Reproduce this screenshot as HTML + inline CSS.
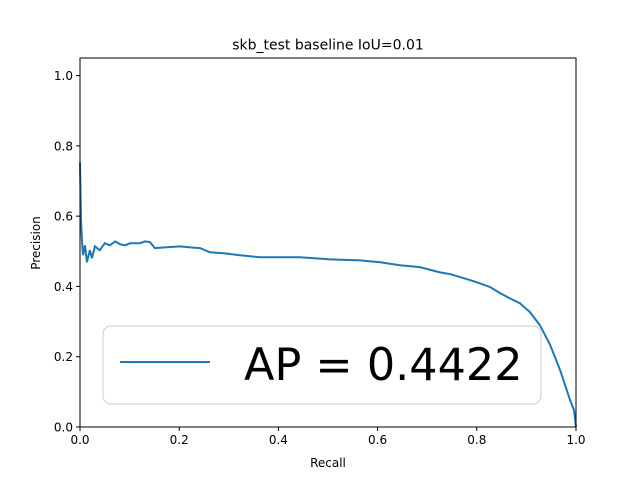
<!DOCTYPE html>
<html><head><meta charset="utf-8"><style>body{margin:0;background:#fff}svg{font-family:"DejaVu Sans","Liberation Sans",sans-serif}</style></head>
<body>
<svg id="chart" width="640" height="480">
<rect width="640" height="480" fill="#fff"/>
<text x="328" y="49.5" text-anchor="middle" font-size="14">skb_test baseline IoU=0.01</text>
<g id="axes"></g>
<text x="328" y="467" text-anchor="middle" font-size="12">Recall</text>
<text transform="translate(40,243) rotate(-90)" text-anchor="middle" font-size="12">Precision</text>
</svg>
<script>
const recall=[0,.002,.004,.006,.010,.014,.020,.024,.030,.040,.050,.060,.071,.081,.091,.101,.121,.131,.141,.151,.171,.202,.222,.242,.262,.292,.323,.363,.444,.504,.565,.605,.645,.685,.726,.746,.786,.806,.827,.847,.867,.887,.907,.927,.948,.968,.978,.988,.996,1];
const precision=[.753,.588,.531,.489,.517,.469,.503,.480,.514,.503,.523,.517,.528,.520,.517,.523,.523,.528,.526,.509,.511,.514,.511,.509,.497,.494,.489,.483,.483,.477,.474,.469,.460,.455,.440,.435,.418,.409,.398,.381,.366,.352,.327,.290,.233,.162,.119,.077,.048,0];
const xTicks=[0,0.2,0.4,0.6,0.8,1.0];
const xTickLabels=["0.0","0.2","0.4","0.6","0.8","1.0"];
const yTicks=[0,0.2,0.4,0.6,0.8,1.0];
const yTickLabels=["0.0","0.2","0.4","0.6","0.8","1.0"];
const legendLabel="AP = 0.4422";
const NS="http://www.w3.org/2000/svg";
const L=80,R=576,T=58,B=427;
const sx=v=>L+v*(R-L);
const sy=v=>B-v*(B-T)/1.05;
const g=document.getElementById('axes');
function mk(t,a,p){const e=document.createElementNS(NS,t);for(const k in a)e.setAttribute(k,a[k]);(p||g).appendChild(e);return e;}
let d='';recall.forEach((r,i)=>{d+=(i?'L':'M')+sx(r).toFixed(1)+' '+sy(precision[i]).toFixed(1);});
const line=mk('path',{d:d,fill:'none',stroke:'#1f77b4','stroke-width':2});


const frame=mk('rect',{x:L,y:T,width:R-L,height:B-T,fill:'none',stroke:'#000','stroke-width':1});


xTicks.forEach((v,i)=>{const x=sx(v);mk('line',{x1:x,x2:x,y1:B,y2:B+4,stroke:'#000'});
const t=mk('text',{x:x,y:B+17,'text-anchor':'middle','font-size':12});t.textContent=xTickLabels[i];

});
yTicks.forEach((v,i)=>{const y=sy(v);mk('line',{x1:L-4,x2:L,y1:y,y2:y,stroke:'#000'});
const t=mk('text',{x:L-7,y:y+4.5,'text-anchor':'end','font-size':12});t.textContent=yTickLabels[i];

});
const lg=mk('g',{});


mk('rect',{x:103,y:326,width:438,height:78,rx:8,fill:'#fff','fill-opacity':0.8,stroke:'#ccc'},lg);
mk('line',{x1:120,x2:210,y1:362,y2:362,stroke:'#1f77b4','stroke-width':2},lg);
const lt=mk('text',{x:244,y:380,'font-size':44.5},lg);lt.textContent=legendLabel;


</script>
</body></html>
